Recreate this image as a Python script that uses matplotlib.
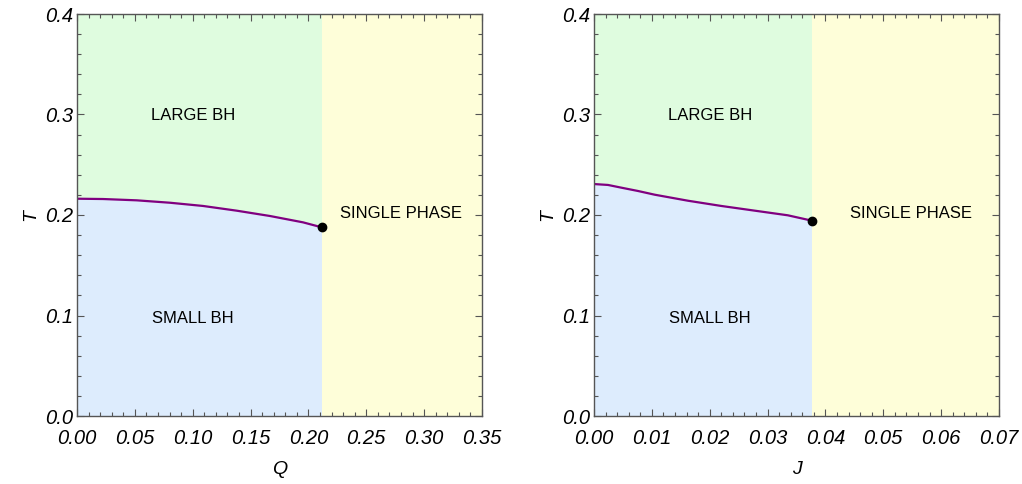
import matplotlib
matplotlib.use("Agg")
import matplotlib.pyplot as plt
from matplotlib.ticker import MultipleLocator, FormatStrFormatter

plt.rcParams['font.family'] = ['Liberation Sans', 'DejaVu Sans']

# Left panel: coexistence curve T(Q)
Q_vals = [0.0, 0.0225, 0.0516, 0.0804, 0.1089, 0.1380, 0.1668, 0.1953, 0.2113]
TQ_vals = [0.2162, 0.2159, 0.2146, 0.2122, 0.2090, 0.2043, 0.1990, 0.1927, 0.1878]
Q_crit = 0.2113

# Right panel: coexistence curve T(J)
J_vals = [0.0, 0.00242, 0.00472, 0.0076, 0.01049, 0.01625, 0.0220, 0.0278, 0.0335, 0.0377]
TJ_vals = [0.2308, 0.2299, 0.2272, 0.2239, 0.2202, 0.2142, 0.2090, 0.2043, 0.1997, 0.1943]
J_crit = 0.0377

region_labels = ["LARGE BH", "SMALL BH", "SINGLE PHASE"]

c_green = "#dffcdf"
c_blue = "#ddecfd"
c_yellow = "#fefed9"
c_curve = "#800080"
c_frame = "#555555"

fig = plt.figure(figsize=(10.22, 4.84), dpi=100)
axL = fig.add_axes([77/1022, 1-416/484, 405/1022, 402/484])
axR = fig.add_axes([594/1022, 1-416/484, 405/1022, 402/484])


def setup(ax, xs, ts, xcrit, xmax, xmaj, xmin, xfmt, xlabel, text_pos):
    ax.set_xlim(0, xmax)
    ax.set_ylim(0, 0.4)
    ax.fill_between(xs, 0, ts, color=c_blue, lw=0, zorder=0)
    ax.fill_between(xs, ts, 0.4, color=c_green, lw=0, zorder=0)
    ax.axvspan(xcrit, xmax, color=c_yellow, lw=0, zorder=0)
    ax.plot(xs, ts, color=c_curve, lw=1.6, zorder=2, solid_capstyle='round',
            solid_joinstyle='round')
    ax.plot([xs[-1]], [ts[-1]], 'o', color='black', ms=6, zorder=3)
    ax.xaxis.set_major_locator(MultipleLocator(xmaj))
    ax.xaxis.set_minor_locator(MultipleLocator(xmin))
    ax.yaxis.set_major_locator(MultipleLocator(0.1))
    ax.yaxis.set_minor_locator(MultipleLocator(0.02))
    ax.xaxis.set_major_formatter(FormatStrFormatter(xfmt))
    ax.yaxis.set_major_formatter(FormatStrFormatter('%.1f'))
    ax.tick_params(which='both', direction='in', top=True, right=True,
                   color=c_frame, width=0.8)
    ax.tick_params(which='major', length=5, labelsize=14.5)
    ax.tick_params(axis='x', which='major', pad=9)
    ax.tick_params(axis='y', which='major', pad=3)
    ax.tick_params(which='minor', length=3)
    for lab in ax.get_xticklabels() + ax.get_yticklabels():
        lab.set_fontstyle('italic')
    for s in ax.spines.values():
        s.set_color(c_frame)
        s.set_linewidth(1.0)
    ax.set_xlabel(xlabel, fontsize=14, fontstyle='italic', labelpad=10)
    ax.set_ylabel('T', fontsize=14, fontstyle='italic', labelpad=4)
    for (x, y), txt in zip(text_pos, region_labels):
        ax.text(x, y, txt, fontsize=12, ha='center', va='center', zorder=4)


setup(axL, Q_vals, TQ_vals, Q_crit, 0.35, 0.05, 0.01, '%.2f', 'Q',
      [(0.1002, 0.2995), (0.1002, 0.0975), (0.280, 0.201)])
setup(axR, J_vals, TJ_vals, J_crit, 0.07, 0.01, 0.002, '%.2f', 'J',
      [(0.0200, 0.2995), (0.0200, 0.0975), (0.0548, 0.201)])

fig.savefig("out.png", dpi=100)
